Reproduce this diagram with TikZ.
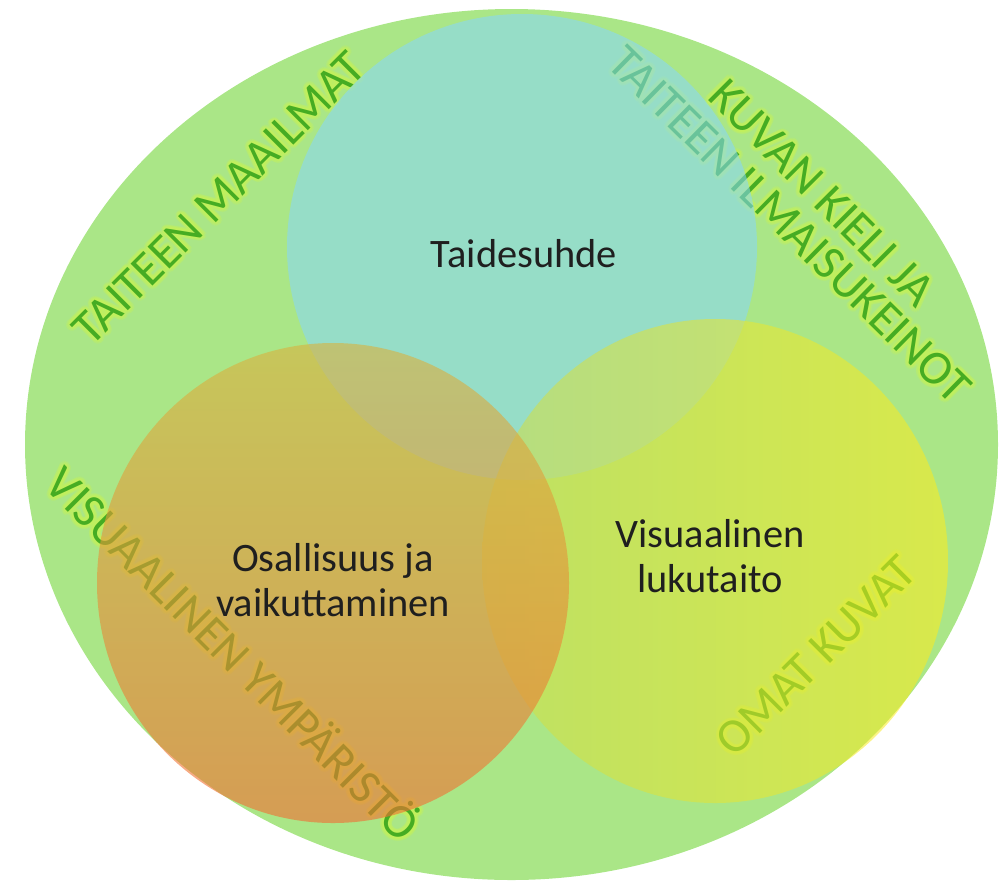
\documentclass[tikz,border=0pt]{standalone}
\usepackage{fontspec}
\setmainfont{Carlito}

\definecolor{field}{RGB}{170,230,135}
\definecolor{rimgreen}{RGB}{70,172,35}
\definecolor{rimglow}{RGB}{196,242,92}
\definecolor{tealdisc}{RGB}{134,215,253}
\definecolor{orangetop}{RGB}{218,178,62}
\definecolor{orangebot}{RGB}{243,108,50}
\definecolor{yellowleft}{RGB}{206,221,71}
\definecolor{yellowright}{RGB}{255,236,28}

\tikzset{
  rim/.style={font=\fontsize{27.5}{30}\selectfont, text=rimgreen, inner sep=0pt},
  rim glow/.style={rim, text=rimglow, text opacity=0.28},
  core/.style={font=\fontsize{23}{25.6}\selectfont, text=black!88, align=center, inner sep=0pt}
}

% label on the rim, with a soft glow
\newcommand{\rimlabel}[4]{%
  \foreach \r in {2,4}
    \foreach \a in {0,30,...,330}
      \node[rim glow, rotate=#3, shift={(\a:\r)}] at (#2) {#4};
  \node[rim, rotate=#3] (#1) at (#2) {#4};
}

\begin{document}
\begin{tikzpicture}[x=0.02cm, y=-0.02cm]
\useasboundingbox (0,0) rectangle (1007,883);
\fill[field] (511.5,444.5) ellipse [x radius=486.5, y radius=435.5];

\rimlabel{maailmat}{219,198}{45}{TAITEEN MAAILMAT}
\rimlabel{kieli}{822,193}{-45}{KUVAN KIELI JA}
\rimlabel{ilmaisu}{790,225}{-44.5}{TAITEEN ILMAISUKEINOT}
\rimlabel{ymparisto}{235,652}{-45}{VISUAALINEN YMPÄRISTÖ}
\rimlabel{omat}{816,656}{45}{OMAT KUVAT}

\fill[tealdisc, fill opacity=0.55] (522,247) ellipse [x radius=235, y radius=233];
\shade[left color=yellowleft, right color=yellowright, fill opacity=0.55]
  (715,561) ellipse [x radius=233, y radius=242];
\shade[top color=orangetop, bottom color=orangebot, fill opacity=0.6]
  (333,583) ellipse [x radius=236, y radius=240];

\node[core] (taide) at (524,254) {Taidesuhde};
\node[core] (osallisuus) at (333,580) {Osallisuus ja\\vaikuttaminen};
\node[core] (lukutaito) at (710,556) {Visuaalinen\\lukutaito};
\end{tikzpicture}
\end{document}
